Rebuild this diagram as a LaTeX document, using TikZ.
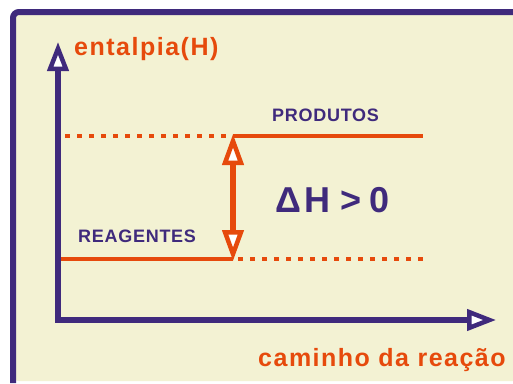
\documentclass[tikz,border=0pt]{standalone}
\usepackage{fontspec}
\setmainfont{Liberation Sans}
\newfontfamily\labA{Liberation Sans}[LetterSpace=6]
\newfontfamily\labB{Liberation Sans}[LetterSpace=4]
\usetikzlibrary{arrows.meta}
\definecolor{cream}{HTML}{F3F2D3}
\definecolor{purp}{HTML}{3F2A7C}
\definecolor{oran}{HTML}{E64A0C}
\tikzset{
  axis/.style={draw=purp, line width=6pt, line cap=butt,
    -{Triangle[length=29pt,width=21pt,fill=white,line width=4.5pt]}},
  level/.style={draw=oran, line width=4pt},
  dots/.style={draw=oran, line width=4pt, dash pattern=on 5pt off 7pt},
  dharrow/.style={draw=oran, line width=6pt,
    {Triangle[length=31pt,width=21pt,fill=white,line width=4.5pt]}-{Triangle[length=31pt,width=21pt,fill=white,line width=4.5pt]}},
  olabel/.style={text=oran, font=\labA\bfseries\fontsize{25}{29}\selectfont, inner sep=0pt, anchor=base west},
  plabel/.style={text=purp, font=\labB\bfseries\fontsize{18}{22}\selectfont, inner sep=0pt, anchor=base west},
}
\begin{document}
\begin{tikzpicture}[x=1pt,y=-1pt]
\useasboundingbox (0,0) rectangle (513,383);
\fill[white] (0,0) rectangle (513,383);
% frame
\fill[cream, rounded corners=6pt] (13,12) rectangle (560,381);
\draw[purp, line width=6pt, rounded corners=6pt] (13,383) -- (13,12) -- (530,12);
% axes
\coordinate (O) at (58,320);
\coordinate (ytop) at (58,42);
\coordinate (xend) at (496,320);
\draw[axis] ([yshift=3pt]O) -- (ytop);
\draw[axis] ([xshift=-3pt]O) -- (xend);
% levels
\coordinate (pL) at (65,136);
\coordinate (pM) at (233,136);
\coordinate (pR) at (423,136);
\coordinate (rL) at (61,259);
\coordinate (rM) at (233,259);
\coordinate (rR) at (423,259);
\draw[dots] (pL) -- (pM);
\draw[level] (pM) -- (pR);
\draw[level] (rL) -- (rM);
\draw[dots] ([xshift=5pt]rM) -- (rR);
\draw[dharrow] ([yshift=2pt]pM) -- ([yshift=-2pt]rM);
% labels
\node[olabel] (ent) at (74,55) {entalpia(H)};
\node[olabel] (cam) at (258,366) {caminho da reação};
\node[plabel] (prod) at (272,121) {PRODUTOS};
\node[plabel] (reag) at (78,242) {REAGENTES};
\node[text=purp, font=\bfseries\fontsize{36}{40}\selectfont, inner sep=0pt, anchor=base west] (dh) at (275,212) {Δ\kern3pt H\ >\kern-2pt\ 0};
\end{tikzpicture}
\end{document}
